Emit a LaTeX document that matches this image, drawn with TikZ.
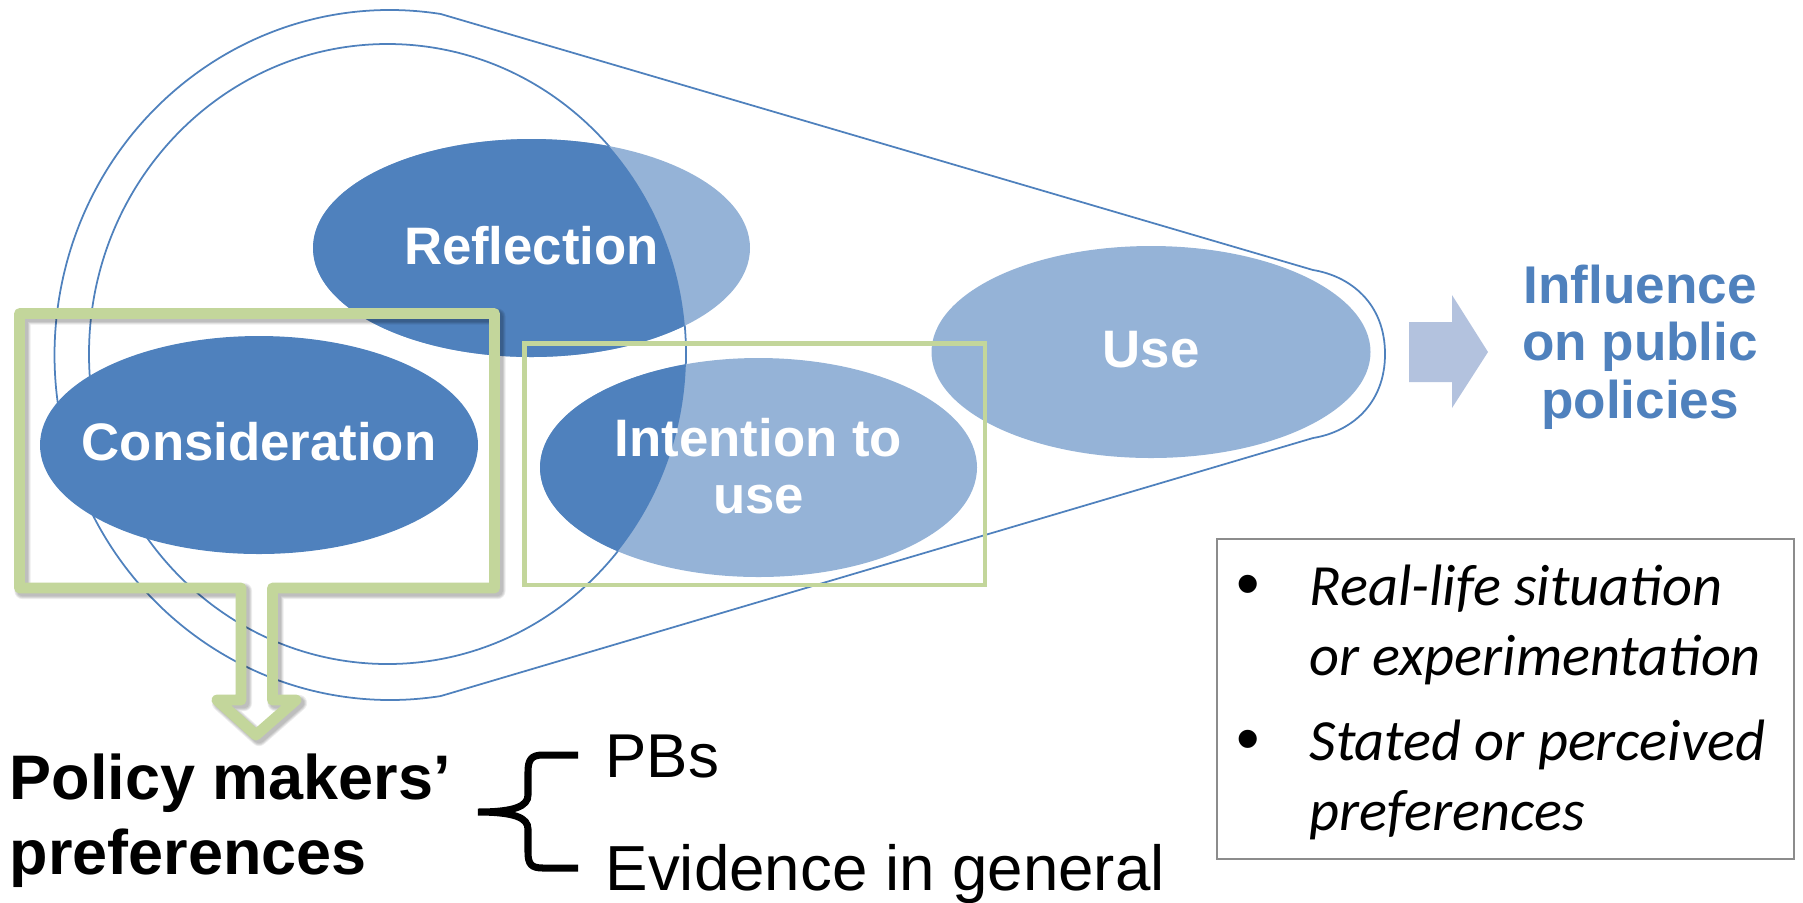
\documentclass[tikz,border=0pt]{standalone}
\usepackage{fontspec}
\setmainfont{Liberation Sans}
\newfontfamily\calibrifont{Carlito}
\definecolor{dkblue}{HTML}{4F81BD}
\definecolor{ltblue}{HTML}{95B3D7}
\definecolor{arrowblue}{HTML}{B3C2DE}
\definecolor{olivegreen}{HTML}{C3D69B}
\definecolor{boxgray}{HTML}{8C8C8C}
% outline of the callout box with its downward arrow
\newcommand{\calloutoutline}{(241,588) -- (19.5,588) -- (19.5,313.5) -- (494.5,313.5) -- (494.5,588) -- (272.5,588) -- (272.5,700) -- (296,700) -- (256,735) -- (217,700) -- (241,700) -- cycle}
\begin{document}
\begin{tikzpicture}[x=0.01cm,y=-0.01cm,
  envline/.style={draw=dkblue,line width=0.5pt},
  ovaltext/.style={text=white,inner sep=0pt,align=center,font=\fontsize{15}{16.4}\selectfont\bfseries},
  callout/.style={draw=olivegreen,line width=3.1pt,line join=round},
  calloutshadow/.style={draw=black,opacity=0.07,line join=round},
  bullettext/.style={anchor=north west,inner sep=0pt,align=left,font=\calibrifont\itshape\fontsize{16.6}{19.9}\selectfont},
  bulletdot/.style={anchor=base,inner sep=0pt,font=\fontsize{19}{19}\selectfont}]
\useasboundingbox (0,0) rectangle (1803,902);

% centres of the four ovals and of the inner circle
\coordinate (cRef) at (531.5,248);
\coordinate (cCons) at (259,445);
\coordinate (cInt) at (758.5,467.5);
\coordinate (cUse) at (1151,352);
\coordinate (cInner) at (387.5,354);

% funnel outline and inner circle
\draw[envline] (440.75,14) arc[start angle=-81.3,end angle=-278.7,x radius=335.5,y radius=345]
  -- (1313,438) .. controls (1350,432) and (1385,405) .. (1385,354)
  .. controls (1385,303) and (1350,276) .. (1313,270) -- cycle;
\draw[envline] (cInner) ellipse[x radius=298.5,y radius=310];

% ovals: light fill, darker inside the inner circle
\fill[ltblue] (cRef) ellipse[x radius=218.5,y radius=109];
\fill[ltblue] (cInt) ellipse[x radius=218.5,y radius=109.5];
\fill[ltblue] (cUse) ellipse[x radius=219.5,y radius=106];
\begin{scope}
  \clip (cInner) ellipse[x radius=298.5,y radius=310];
  \fill[dkblue] (cRef) ellipse[x radius=218.5,y radius=109];
  \fill[dkblue] (cInt) ellipse[x radius=218.5,y radius=109.5];
\end{scope}
\fill[dkblue] (cCons) ellipse[x radius=219,y radius=109];

\node[ovaltext] (refl) at (531.5,246) {Reflection};
\node[ovaltext] (cons) at (259,442) {Consideration};
\node[ovaltext] (intent) at (758.5,466) {Intention to\\use};
\node[ovaltext] (use) at (1151,350) {Use};

% thin frame around intention/use
\draw[olivegreen,line width=1.15pt] (524.5,343.5) rectangle (985,585);

% callout with soft shadow
\foreach \w in {4.6,4.1,3.6,3.1}{
  \begin{scope}[shift={(3,3)}]
    \draw[calloutshadow,line width=\w pt] \calloutoutline;
  \end{scope}
}
\draw[callout] \calloutoutline;

% block arrow towards the result
\fill[arrowblue] (1409,322) -- (1452,322) -- (1452,295) -- (1488,352) -- (1452,408) -- (1452,382) -- (1409,382) -- cycle;
\node[inner sep=0pt,align=center,text=dkblue,font=\fontsize{15.1}{16.3}\selectfont\bfseries] (infl) at (1640,347) {Influence\\on public\\policies};

% policy makers' preferences and the brace
\node[anchor=north west,inner sep=0pt,align=left,font=\fontsize{17.9}{21.5}\selectfont\bfseries] (pm) at (9,753) {Policy makers’\\preferences};
\draw[line width=2pt,line cap=butt] (578,755) -- (543,755) .. controls (531,755) and (528,760) .. (528,772) -- (528,795)
  .. controls (528,806) and (515,812) .. (478,812) .. controls (515,812) and (528,818) .. (528,829)
  -- (528,852) .. controls (528,864) and (531,868) .. (543,868) -- (578,868);
\node[anchor=base west,inner sep=0pt,font=\fontsize{17.6}{20}\selectfont] (pbs) at (605,777) {PBs};
\node[anchor=base west,inner sep=0pt,font=\fontsize{18.1}{20}\selectfont] (evid) at (605,890) {Evidence in general};

% bullet box
\draw[boxgray,line width=0.45pt] (1217,539) rectangle (1794,859);
\node[bulletdot] (b1) at (1248,606) {•};
\node[bullettext] (item1) at (1309,564) {Real-life situation\\or experimentation};
\node[bulletdot] (b2) at (1248,761) {•};
\node[bullettext] (item2) at (1309,719) {Stated or perceived\\preferences};
\end{tikzpicture}
\end{document}
